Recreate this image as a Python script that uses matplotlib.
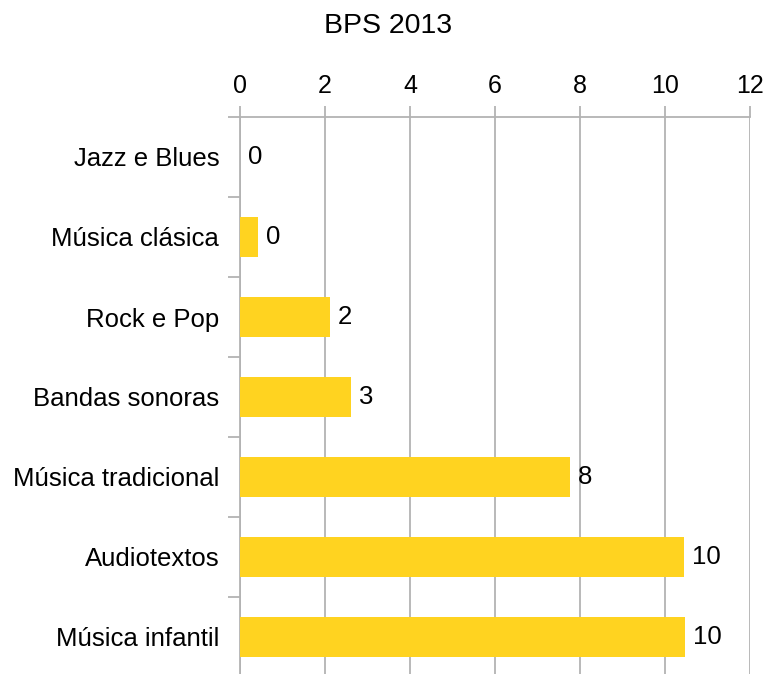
import numpy as np
import matplotlib
matplotlib.use("Agg")
import matplotlib.pyplot as plt

plt.rcParams['font.family'] = ['Liberation Sans', 'DejaVu Sans']

categories = ["Jazz e Blues", "Música clásica", "Rock e Pop", "Bandas sonoras",
              "Música tradicional", "Audiotextos", "Música infantil"]
values = [0.0, 0.42, 2.12, 2.61, 7.76, 10.45, 10.47]
x_ticks = [0, 2, 4, 6, 8, 10, 12]
title = "BPS 2013"

bar_color = "#FFD320"
grid_color = "#b3b3b3"

fig = plt.figure(figsize=(7.67, 6.74), dpi=100)
ax = fig.add_axes([240 / 767, -3 / 674, 510 / 767, 560 / 674])

pos = np.arange(len(categories))
bars = ax.barh(pos, values, height=0.51, color=bar_color, zorder=3)
for b, v in zip(bars, values):
    ax.text(b.get_width() + 0.19, b.get_y() + b.get_height() / 2, "%d" % round(v),
            va='center', ha='left', fontsize=18.5, color='black', zorder=4)

ax.set_xlim(0, 12)
ax.set_ylim(len(categories) - 0.5, -0.5)

ax.xaxis.tick_top()
ax.set_xticks(x_ticks)
ax.set_xticklabels([str(t) for t in x_ticks], fontsize=18)
ax.tick_params(axis='x', which='major', length=8, width=1.3, color=grid_color, pad=6)
ax.grid(axis='x', color=grid_color, linewidth=1.3, zorder=0)

ax.set_yticks(pos)
ax.set_yticklabels(categories, fontsize=18.5)
ax.tick_params(axis='y', which='major', length=0, pad=15)
ax.set_yticks(np.arange(-0.5, len(categories), 1.0), minor=True)
ax.tick_params(axis='y', which='minor', length=8.5, width=1.3, color=grid_color)

for side in ['right', 'bottom']:
    ax.spines[side].set_visible(False)
for side in ['top', 'left']:
    ax.spines[side].set_color(grid_color)
    ax.spines[side].set_linewidth(1.3)

fig.text(388 / 767, 1 - 26 / 674, title, ha='center', va='center', fontsize=20.5)

fig.savefig("out.png", dpi=100)
